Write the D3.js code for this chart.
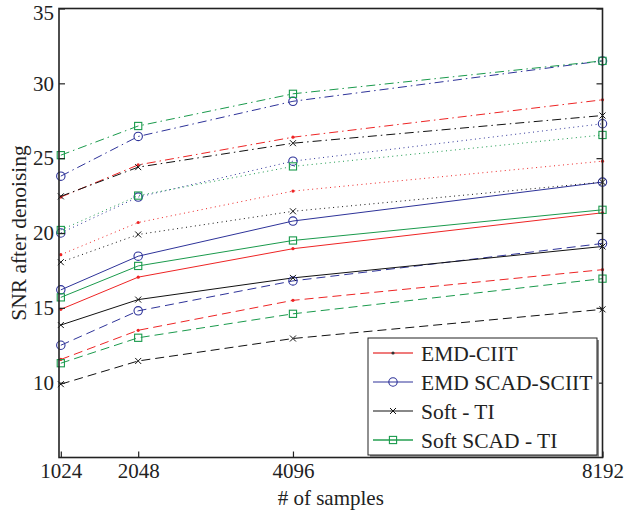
<!DOCTYPE html>
<html>
<head>
<meta charset="utf-8">
<script src="https://cdn.jsdelivr.net/npm/d3@7"></script>
<style>
  body { margin: 0; background: #fff; }
  text { font-family: "Liberation Serif", "Times New Roman", serif; fill: #222; }
</style>
</head>
<body>
<div id="chart"></div>
<script>
const samples = [1024, 2048, 4096, 8192]
const yTicks = [10, 15, 20, 25, 30, 35]
const methods = ['EMD-CIIT', 'EMD SCAD-SCIIT', 'Soft - TI', 'Soft SCAD - TI']

// rows: one per noise level, in the order dash-dot, dotted, solid, dashed
const emdCiit = [
  [22.4, 24.55, 26.4, 28.9],
  [18.55, 20.7, 22.8, 24.8],
  [14.9, 17.05, 18.95, 21.35],
  [11.55, 13.5, 15.5, 17.55]
]
const emdScadSciit = [
  [23.8, 26.45, 28.8, 31.5],
  [20.0, 22.4, 24.8, 27.3],
  [16.2, 18.45, 20.8, 23.4],
  [12.5, 14.8, 16.8, 19.3]
]
const softTi = [
  [22.45, 24.4, 26.0, 27.85],
  [18.05, 19.9, 21.45, 23.4],
  [13.85, 15.55, 17.0, 19.1],
  [9.9, 11.45, 12.95, 14.9]
]
const softScadTi = [
  [25.2, 27.15, 29.3, 31.5],
  [20.2, 22.5, 24.45, 26.55],
  [15.7, 17.8, 19.5, 21.55],
  [11.3, 13.0, 14.6, 16.95]
]

const width = 631
const height = 512
const margin = { top: 8.5, right: 28.5, bottom: 54.5, left: 59 }

const colors = ['#ee2424', '#2e3399', '#111111', '#1a9a4c']
const dashes = ['9,4,1.5,4', '1,3.5', null, '9,5']
const series = [emdCiit, emdScadSciit, softTi, softScadTi]

const xScale = d3.scaleLinear()
  .domain([1000, 8192])
  .range([margin.left, width - margin.right])

const yScale = d3.scaleLinear()
  .domain([5, 35])
  .range([height - margin.bottom, margin.top])

const svg = d3.select('#chart')
  .append('svg')
  .attr('width', width)
  .attr('height', height)

const line = d3.line()
  .x((d, i) => xScale(samples[i]))
  .y(d => yScale(d))

// lines
series.forEach((rows, m) => {
  const g = svg.append('g')
  rows.forEach((row, k) => {
    g.append('path')
      .attr('d', line(row))
      .attr('fill', 'none')
      .attr('stroke', colors[m])
      .attr('stroke-width', 1)
      .attr('stroke-dasharray', dashes[k])
  })
})

// markers
function marker (g, m, x, y, big) {
  const c = colors[m]
  if (m === 0) {
    g.append('circle').attr('cx', x).attr('cy', y).attr('r', 1.6).attr('fill', big ? '#333' : c)
  } else if (m === 1) {
    g.append('circle').attr('cx', x).attr('cy', y).attr('r', 4.2)
      .attr('fill', 'none').attr('stroke', c).attr('stroke-width', 1.1)
  } else if (m === 2) {
    const s = 3
    g.append('path').attr('d', `M${x - s},${y - s}L${x + s},${y + s}M${x - s},${y + s}L${x + s},${y - s}`)
      .attr('stroke', c).attr('stroke-width', 1)
  } else {
    const s = 3.6
    g.append('rect').attr('x', x - s).attr('y', y - s).attr('width', 2 * s).attr('height', 2 * s)
      .attr('fill', 'none').attr('stroke', c).attr('stroke-width', 1.1)
  }
}

series.forEach((rows, m) => {
  const g = svg.append('g')
  rows.forEach(row => {
    row.forEach((v, i) => marker(g, m, xScale(samples[i]), yScale(v)))
  })
})

// axes
const yAxis = g => g
  .attr('transform', `translate(${margin.left},0)`)
  .call(d3.axisLeft(yScale).tickValues(yTicks).tickSizeInner(-6).tickSizeOuter(0).tickPadding(5))
  .call(g => g.select('.domain').remove())
  .call(g => g.selectAll('text').attr('font-size', 21).attr('fill', '#222'))
  .call(g => g.selectAll('.tick text').filter(d => d === 35).attr('y', 4))

const yAxisRight = g => g
  .attr('transform', `translate(${width - margin.right},0)`)
  .call(d3.axisRight(yScale).tickValues(yTicks).tickSizeInner(-6).tickSizeOuter(0).tickFormat(''))
  .call(g => g.select('.domain').remove())

const xAxis = g => g
  .attr('transform', `translate(0,${height - margin.bottom})`)
  .call(d3.axisBottom(xScale).tickValues(samples).tickFormat(d3.format('d')).tickSizeInner(-6).tickSizeOuter(0).tickPadding(6))
  .call(g => g.select('.domain').remove())
  .call(g => g.selectAll('text').attr('font-size', 21).attr('fill', '#222'))

svg.append('g').call(yAxis)
svg.append('g').call(yAxisRight)
svg.append('g').call(xAxis)
svg.selectAll('.tick line').attr('stroke', '#222').attr('stroke-width', 1.2)

svg.append('rect')
  .attr('x', margin.left)
  .attr('y', margin.top)
  .attr('width', width - margin.left - margin.right)
  .attr('height', height - margin.top - margin.bottom)
  .attr('fill', 'none')
  .attr('stroke', '#222')
  .attr('stroke-width', 1.6)

svg.append('text')
  .attr('x', (margin.left + width - margin.right) / 2)
  .attr('y', 505)
  .attr('text-anchor', 'middle')
  .attr('font-size', 21)
  .text('# of samples')

svg.append('text')
  .attr('transform', `translate(26,${(margin.top + height - margin.bottom) / 2}) rotate(-90)`)
  .attr('text-anchor', 'middle')
  .attr('font-size', 21.5)
  .text('SNR after denoising')

// legend
const legend = svg.append('g').attr('transform', 'translate(368,338)')
legend.append('rect').attr('x', 2).attr('y', 2).attr('width', 229).attr('height', 117).attr('fill', '#888')
legend.append('rect').attr('width', 229).attr('height', 117).attr('fill', '#fff').attr('stroke', '#222').attr('stroke-width', 1)
const legendStroke = ['#ef7b7b', '#2e3399', '#888888', '#5bb77c']
const legendWidth = [2.2, 1.2, 2.2, 1.8]
methods.forEach((name, m) => {
  const y = 15 + m * 29
  legend.append('line').attr('x1', 5).attr('x2', 45).attr('y1', y).attr('y2', y)
    .attr('stroke', legendStroke[m]).attr('stroke-width', legendWidth[m])
  marker(legend, m, 25, y, true)
  legend.append('text').attr('x', 53).attr('y', y + 7.5).attr('font-size', 21.5).text(name)
})
</script>
</body>
</html>
